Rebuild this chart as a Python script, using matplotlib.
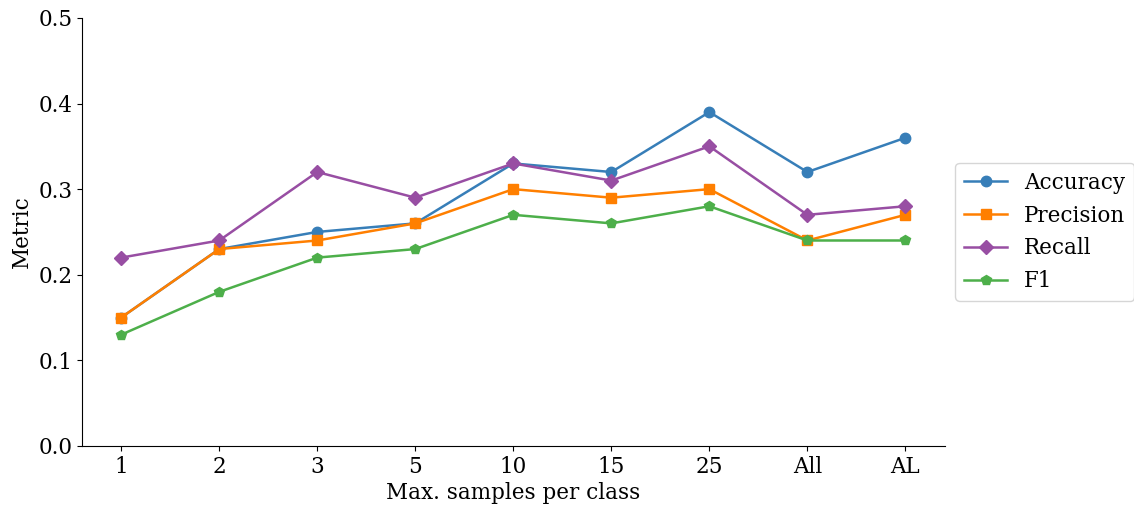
import numpy as np
import matplotlib.pyplot as plt

#%% Data
samples = ['1', '2', '3', '5', '10', '15', '25', 'All', 'AL']
accuracy = [0.15, 0.23, 0.25, 0.26, 0.33, 0.32, 0.39, 0.32, 0.36]
precision = [0.15, 0.23, 0.24, 0.26, 0.30, 0.29, 0.30, 0.24, 0.27]
recall = [0.22, 0.24, 0.32, 0.29, 0.33, 0.31, 0.35, 0.27, 0.28]
f1 = [0.13, 0.18, 0.22, 0.23, 0.27, 0.26, 0.28, 0.24, 0.24]

#%% Plot
plt.rcParams['font.family'] = 'DejaVu Serif'
plt.rcParams['font.size'] = 15.5

f = plt.figure(figsize=(11.34, 5.12), dpi=100)
ax = f.add_axes([0.0723, 0.129, 0.7607, 0.836])

x = np.arange(len(samples))
series = [
    ('Accuracy', accuracy, '#377eb8', 'o', 7.5),
    ('Precision', precision, '#ff7f00', 's', 7.5),
    ('Recall', recall, '#984ea3', 'D', 7.5),
    ('F1', f1, '#4daf4a', 'p', 7.5),
]
for label, vals, color, marker, ms in series:
    ax.plot(x, vals, color=color, marker=marker, markersize=ms, lw=1.8, label=label)

ax.set_xticks(x)
ax.set_xticklabels(samples)
ax.set_xlim(-0.4, 8.4)
ax.set_ylim(0, 0.5)
ax.set_yticks(np.arange(0, 0.51, 0.1))
ax.set_xlabel('Max. samples per class', labelpad=3)
ax.set_ylabel('Metric')
ax.spines['top'].set_visible(False)
ax.spines['right'].set_visible(False)
ax.legend(loc='center left', bbox_to_anchor=(1.0, 0.5))

plt.savefig('out.png', dpi=100)
